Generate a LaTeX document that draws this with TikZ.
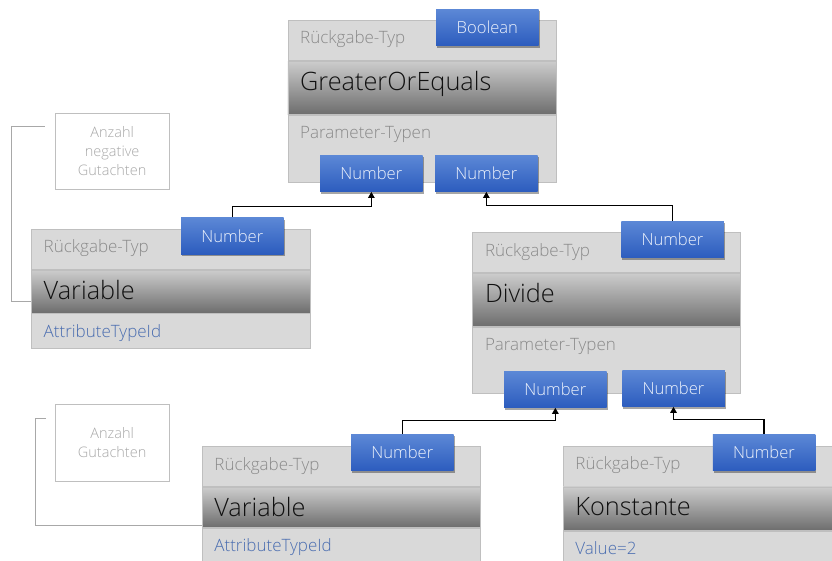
\documentclass[tikz,border=0pt]{standalone}
\usepackage{fontspec}
\setmainfont{Open Sans Light}
\usetikzlibrary{calc,shadows,arrows.meta}

\definecolor{rowfill}{HTML}{D9D9D9}
\definecolor{rowline}{HTML}{BFBFBF}
\definecolor{labelgrey}{HTML}{8A8A8A}
\definecolor{titleblack}{HTML}{111111}
\definecolor{attrblue}{HTML}{4A6DB0}
\definecolor{notegrey}{HTML}{A8A8A8}
\definecolor{typetop}{HTML}{5C88D6}
\definecolor{typebottom}{HTML}{2C5CBE}
\definecolor{typetext}{HTML}{EEF3FC}

\tikzset{
  rowbox/.style={draw=rowline, line width=0.8pt, fill=rowfill, inner sep=0pt, anchor=north west},
  titlebox/.style={draw=rowline, line width=0.8pt, inner sep=0pt, anchor=north west,
    top color=black!20, middle color=black!33, bottom color=black!57, shading angle=0},
  lbl/.style={text=labelgrey, font=\fontsize{17}{20}\selectfont, inner sep=0pt, anchor=base west},
  attr/.style={text=attrblue, font=\fontsize{17}{20}\selectfont, inner sep=0pt, anchor=base west},
  title/.style={text=titleblack, font=\fontsize{25.3}{29}\selectfont, inner sep=0pt, anchor=base west},
  typebox/.style={minimum width=102.5pt, minimum height=36.5pt, inner sep=0pt,
    top color=typetop, bottom color=typebottom, text=typetext,
    font=\fontsize{16.6}{19}\selectfont,
    drop shadow={shadow xshift=1pt, shadow yshift=-2pt, opacity=0.35, fill=black}},
  notebox/.style={draw=rowline, line width=0.8pt, fill=white, inner sep=0pt, align=center,
    text=notegrey, font=\fontsize{14.5}{19}\selectfont},
  conn/.style={draw=black, line width=1.1pt, -{Triangle[length=6pt,width=6.5pt]}},
  bracket/.style={draw=notegrey, line width=0.9pt}
}

% operator block: name, left x, width, top y, heights of the three rows
\newcommand\opblock[7]{%
  \node[rowbox, minimum width=#3pt, minimum height=#5pt] (#1a) at (#2,#4) {};
  \node[titlebox, minimum width=#3pt, minimum height=#6pt] (#1b) at (#1a.south west) {};
  \node[rowbox, minimum width=#3pt, minimum height=#7pt] (#1c) at (#1b.south west) {};
}

\begin{document}
\begin{tikzpicture}[x=1pt, y=-1pt]
\clip (0,0) rectangle (832,561);
\fill[white] (0,0) rectangle (832,561);

% --- GreaterOrEquals
\opblock{goe}{287.5}{268}{20}{40}{53}{67}
\node[lbl] (goeL1) at ($(goea.north west)+(12.5,24)$) {Rückgabe-Typ};
\node[title] (goeT) at ($(goeb.north west)+(12.5,29.5)$) {GreaterOrEquals};
\node[lbl] (goeL2) at ($(goec.north west)+(12.5,24)$) {Parameter-Typen};

% --- Variable (negative reviews)
\opblock{vo}{31}{279}{229}{40}{42.7}{34.3}
\node[lbl] (voL1) at ($(voa.north west)+(12.5,24)$) {Rückgabe-Typ};
\node[title] (voT) at ($(vob.north west)+(12.5,29.5)$) {Variable};
\node[attr] (voA) at ($(voc.north west)+(12.5,24)$) {AttributeTypeId};

% --- Divide
\opblock{dv}{472.3}{267.7}{232.3}{39.7}{53}{66.7}
\node[lbl] (dvL1) at ($(dva.north west)+(12.5,24)$) {Rückgabe-Typ};
\node[title] (dvT) at ($(dvb.north west)+(12.5,29.5)$) {Divide};
\node[lbl] (dvL2) at ($(dvc.north west)+(12.5,24)$) {Parameter-Typen};

% --- Variable (reviews)
\opblock{vt}{201.7}{278.3}{446}{40}{40}{34.7}
\node[lbl] (vtL1) at ($(vta.north west)+(12.5,24)$) {Rückgabe-Typ};
\node[title] (vtT) at ($(vtb.north west)+(12.5,29.5)$) {Variable};
\node[attr] (vtA) at ($(vtc.north west)+(12.5,24)$) {AttributeTypeId};

% --- Konstante
\opblock{ko}{562.7}{290}{445.7}{40}{43.3}{40}
\node[lbl] (koL1) at ($(koa.north west)+(12.5,24)$) {Rückgabe-Typ};
\node[title] (koT) at ($(kob.north west)+(12.5,28.5)$) {Konstante};
\node[attr] (koA) at ($(koc.north west)+(12.5,24)$) {Value=2};

% --- type badges
\node[typebox] (goeR) at (487.35,27.5) {Boolean};
\node[typebox] (goeP1) at (371.35,173.5) {Number};
\node[typebox] (goeP2) at (486.35,173.5) {Number};
\node[typebox] (voR) at (232.35,235.85) {Number};
\node[typebox] (dvR) at (672.5,239.5) {Number};
\node[typebox] (dvP1) at (555.35,389.35) {Number};
\node[typebox] (dvP2) at (673.5,388.35) {Number};
\node[typebox] (vtR) at (402.35,452.65) {Number};
\node[typebox] (koR) at (764,452.5) {Number};

% --- connectors from return types to parameter slots
\draw[conn] (voR.north) -- ++(0,-11) -| (goeP1.south);
\draw[conn] (dvR.north) -- ++(0,-15.6) -| (goeP2.south);
\draw[conn] (vtR.north) -- ++(0,-13.6) -| (dvP1.south);
\draw[conn] (koR.north) -- ++(0,-14.2) -| (dvP2.south);

% --- notes
\node[notebox, minimum width=114.3pt, minimum height=76pt] (n1) at (112.15,151.3) {Anzahl\\negative\\Gutachten};
\node[notebox, minimum width=114.3pt, minimum height=76.3pt] (n2) at (112.15,442.85) {Anzahl\\Gutachten};
\draw[bracket] ($(n1.north west)+(-10,14)$) -| ($(n1.north west)+(-43.3,14)$) |- ($(vob.west)+(0,9.6)$);
\draw[bracket] ($(n2.north west)+(-9,14.6)$) -| ($(n2.north west)+(-19,14.6)$) |- ($(vtb.west)+(0,18.3)$);
\end{tikzpicture}
\end{document}
